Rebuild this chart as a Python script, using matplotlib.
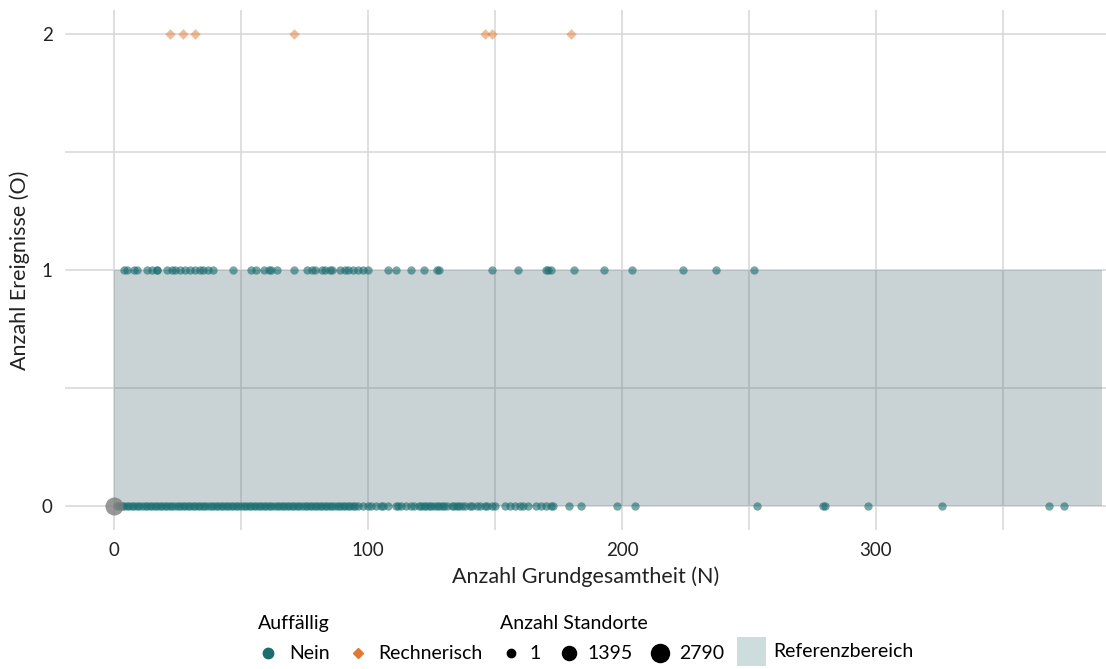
import matplotlib.pyplot as plt
from matplotlib.lines import Line2D
from matplotlib.patches import Patch

plt.rcParams['font.family'] = ['Lato', 'DejaVu Sans']

# Auffällig = "Nein", O = 0 (N values)
nein_o0 = [1, 2, 3, 4, 5, 6, 7, 8, 9, 10, 11, 12, 13, 14, 15, 16, 17, 18, 19, 20,
           21, 22, 23, 24, 25, 26, 27, 28, 29, 30, 31, 32, 33, 34, 35, 36, 37, 38, 39, 40,
           41, 42, 43, 44, 45, 46, 47, 48, 49, 50, 51, 52, 53, 54, 55, 56, 57, 58, 59, 60,
           61, 62, 63, 64, 65, 66, 67, 68, 69, 70, 71, 72, 73, 74, 75, 76, 77, 78, 79, 80,
           81, 82, 83, 84, 85, 86, 87, 88, 89, 90, 91, 92, 93, 94, 95, 96, 98, 100, 101, 103,
           105, 106, 108, 111, 112, 113, 115, 117, 118, 120, 121, 122, 123, 124, 125, 126,
           127, 128, 129, 130, 131, 133, 134, 135, 136, 137, 138, 140, 141, 143, 144, 146,
           147, 149, 150, 154, 156, 158, 160, 161, 163, 166, 168, 170, 172, 173, 179, 184,
           198, 205, 253, 279, 280, 297, 326, 368, 374]
# Auffällig = "Nein", O = 1
nein_o1 = [4, 5, 8, 9, 13, 15, 17, 17, 21, 23, 24, 26, 28, 30, 32, 34, 35, 37, 39,
           47, 54, 56, 59, 61, 62, 64, 71, 76, 78, 79, 82, 83, 85, 86, 89, 91, 92, 94,
           96, 98, 100, 108, 111, 117, 122, 127, 128, 149, 159, 170, 171, 172, 181, 193,
           204, 224, 237, 252]
# Auffällig = "Rechnerisch", O = 2
rech_o2 = [22, 27, 32, 71, 146, 149, 180]
# large point without Auffällig status
big_n = [0]
big_o = [0]
big_count = [2790]

ref_lo, ref_hi, ref_right = 0, 1, 389
size_breaks = [1, 1395, 2790]

teal = '#1B6D70'
orange = '#E07A30'


def msize(c):
    # marker area in pt^2
    return 36 + (c - 1) * 133 / 2789


fig = plt.figure(figsize=(11.06, 6.69), dpi=100)
ax = fig.add_axes([0.0588, 0.2078, 0.9412, 0.7772])

ax.fill_between([0, ref_right], ref_lo, ref_hi, color='#4F6F75', alpha=0.3,
                linewidth=0, zorder=1)
ax.scatter(nein_o0, [0] * len(nein_o0), s=msize(1), color=teal, alpha=0.6,
           linewidths=0, zorder=3)
ax.scatter(nein_o1, [1] * len(nein_o1), s=msize(1), color=teal, alpha=0.6,
           linewidths=0, zorder=3)
ax.scatter(rech_o2, [2] * len(rech_o2), s=msize(1) * 0.8, color=orange, alpha=0.5,
           marker='D', linewidths=0, zorder=3)
ax.scatter(big_n, big_o, s=[msize(c) for c in big_count], color='#7F7F7F',
           alpha=0.8, linewidths=0, zorder=4)

ax.set_xlim(-19.3, 390.6)
ax.set_ylim(-0.1, 2.1)
ax.set_xticks([0, 100, 200, 300])
ax.set_xticks([50, 150, 250, 350], minor=True)
ax.set_yticks([0, 1, 2])
ax.set_yticks([0.5, 1.5], minor=True)
ax.grid(True, which='both', color='#D6D6D6', linewidth=1.1, zorder=0)
ax.set_axisbelow(True)
for sp in ax.spines.values():
    sp.set_visible(False)
ax.tick_params(which='both', length=0, labelsize=13.5, colors='#222222', pad=9)
ax.set_xlabel('Anzahl Grundgesamtheit (N)', fontsize=15.5, color='#222222', labelpad=5)
ax.set_ylabel('Anzahl Ereignisse (O)', fontsize=15.5, color='#222222', labelpad=8)

# legends
lg = dict(loc='upper left', frameon=False, fontsize=14, title_fontsize=14,
          columnspacing=0.9, alignment='left', handlelength=1.1,
          borderpad=0, borderaxespad=0, labelspacing=0.7)
h1 = [Line2D([], [], marker='o', linestyle='', color=teal, markersize=7.5),
      Line2D([], [], marker='D', linestyle='', color=orange, markersize=5.5)]
leg1 = fig.legend(h1, ['Nein', 'Rechnerisch'], title='Auffällig', ncol=2,
                  bbox_to_anchor=(0.233, 0.081), handletextpad=0.5, **lg)
h2 = [Line2D([], [], marker='o', linestyle='', color='black',
             markersize=msize(c) ** 0.5) for c in size_breaks]
leg2 = fig.legend(h2, [str(c) for c in size_breaks], title='Anzahl Standorte', ncol=3,
                  bbox_to_anchor=(0.452, 0.081), handletextpad=0.4, **lg)
h3 = [Patch(facecolor='#CDDCDD', edgecolor='none')]
leg3 = fig.legend(h3, ['Referenzbereich'], loc='upper left',
                  bbox_to_anchor=(0.666, 0.048), frameon=False, fontsize=14,
                  handlelength=1.5, handleheight=1.9, handletextpad=0.4,
                  borderpad=0, borderaxespad=0)

fig.savefig('out.png', dpi=100)
